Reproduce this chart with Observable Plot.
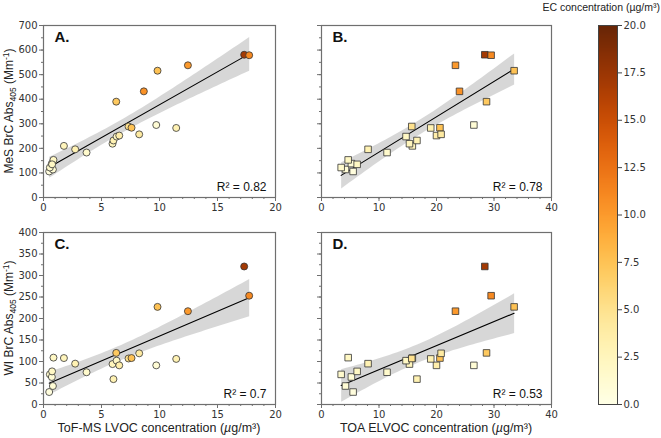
<!DOCTYPE html>
<html>
<head>
<meta charset="utf-8">
<script src="https://cdn.jsdelivr.net/npm/d3@7"></script>
<script src="https://cdn.jsdelivr.net/npm/@observablehq/plot@0.6"></script>
<style>
  html, body { margin: 0; padding: 0; background: #fff; }
  #wrap { position: relative; width: 661px; height: 438px; overflow: hidden; font-family: "Liberation Sans", Arial, sans-serif; }
  .pane { position: absolute; }
  #labels { position: absolute; left: 0; top: 0; pointer-events: none; }
</style>
</head>
<body>
<div id="wrap">
  <div class="pane" id="pA" style="left:0px;top:0px"></div>
  <div class="pane" id="pB" style="left:300px;top:0px"></div>
  <div class="pane" id="pC" style="left:0px;top:215px"></div>
  <div class="pane" id="pD" style="left:300px;top:215px"></div>
  <div class="pane" id="pBar" style="left:560px;top:0px"></div>
</div>
<script>
// ---- data (one entry per sample) ----
const lvoc  = [0.49, 0.81, 0.55, 0.72, 0.86, 0.74, 1.76, 2.73, 3.71, 5.95, 6.03, 6.30, 6.53, 6.27, 7.33, 7.59, 11.44, 8.25, 8.65, 9.72, 9.83, 12.45, 17.30, 17.73];
const elvoc = [5.5, 4.17, 3.42, 5.2, 4.64, 6.2, 15.8, 8.1, 11.4, 15.3, 16.6, 14.7, 20.0, 28.7, 15.7, 20.6, 19.0, 20.8, 24.0, 26.5, 33.5, 23.3, 28.4, 29.5];
const mes   = [106, 114, 122, 138, 153, 135, 210, 196, 183, 219, 232, 248, 252, 390, 289, 284, 283, 257, 432, 295, 516, 538, 581, 579];
const wi    = [29, 43, 70, 64, 109, 77, 108, 95, 75, 94, 59, 102, 91, 120, 107, 108, 106, 119, null, 91, 227, 217, 321, 253];
const ec    = [0.5, 1, 1.5, 1, 2, 2, 2.5, 3, 1.5, 2.5, 3, 2, 3.5, 7, 5, 7.5, 3, 4, 10.5, 1, 7.5, 10, 17, 11];

const panelLetters = ["A.", "B.", "C.", "D."];
const r2Labels = ["R\u00b2 = 0.82", "R\u00b2 = 0.78", "R\u00b2 = 0.7", "R\u00b2 = 0.53"];

const lvocTicks = [0, 5, 10, 15, 20];
const lvocMinor = d3.range(0, 21, 1);
const elvocTicks = [0, 10, 20, 30, 40];
const elvocMinor = d3.range(0, 41, 2);
const mesTicks = [0, 100, 200, 300, 400, 500, 600, 700];
const mesMinor = d3.range(0, 701, 50);
const wiTicks = [0, 50, 100, 150, 200, 250, 300, 350, 400];
const wiMinor = d3.range(0, 401, 25);
const ecTicks = [0, 2.5, 5, 7.5, 10, 12.5, 15, 17.5, 20];
const ecDomain = [0, 20];

const samples = lvoc.map((d, i) => ({lvoc: d, elvoc: elvoc[i], mes: mes[i], wi: wi[i], ec: ec[i]}));
const samplesWI = samples.filter(d => d.wi != null);

const colorScale = {type: "linear", scheme: "YlOrBr", domain: ecDomain};
const axisStroke = "#6f6f6f";
const textColor = "#333";

function panel({data, xKey, yKey, xDomain, yDomain, xTicks, xMinor, yTicks, yMinor, showY, symbol, r, letter, r2, width, height, mt, mb, ml, mr}) {
  return Plot.plot({
    width, height, marginTop: mt, marginBottom: mb, marginLeft: ml, marginRight: mr,
    x: {domain: xDomain},
    y: {domain: yDomain},
    color: colorScale,
    style: {fontFamily: "DejaVu Sans", fontSize: "10px", color: textColor, background: "transparent", overflow: "visible"},
    marks: [
      Plot.linearRegressionY(data, {x: xKey, y: yKey, stroke: "#000", strokeWidth: 1.1, fill: "#c9c9c9", fillOpacity: 0.75}),
      Plot.dot(data, {x: xKey, y: yKey, fill: "ec", stroke: "#333", strokeWidth: 0.8, r, symbol}),
      Plot.frame({stroke: axisStroke, strokeWidth: 1.2}),
      Plot.axisX({ticks: xTicks, tickSize: 4, tickPadding: 2, label: null, stroke: axisStroke, fill: textColor}),
      Plot.axisX({ticks: xMinor, tickSize: 2, text: null, label: null, stroke: axisStroke}),
      Plot.axisY({ticks: yTicks, tickSize: 4, tickPadding: 2, label: null, stroke: axisStroke, fill: textColor, text: showY ? undefined : null}),
      Plot.axisY({ticks: yMinor, tickSize: 2, text: null, label: null, stroke: axisStroke}),
      Plot.text([letter], {frameAnchor: "top-left", dx: 11, dy: 6, fontWeight: "bold", fontSize: 15, fontFamily: "Liberation Sans", fill: "#111"}),
      Plot.text([r2], {frameAnchor: "bottom-right", dx: -9, dy: -7, fontSize: 12, fontFamily: "Liberation Sans", fill: "#111"})
    ]
  });
}

document.getElementById("pA").append(panel({data: samples, xKey: "lvoc", yKey: "mes", xDomain: [0, 20], yDomain: [0, 700],
  xTicks: lvocTicks, xMinor: lvocMinor, yTicks: mesTicks, yMinor: mesMinor, showY: true, symbol: "circle", r: 3.5,
  letter: panelLetters[0], r2: r2Labels[0], width: 290, height: 215, mt: 25, mb: 18, ml: 43, mr: 15}));
document.getElementById("pB").append(panel({data: samples, xKey: "elvoc", yKey: "mes", xDomain: [0, 40], yDomain: [0, 700],
  xTicks: elvocTicks, xMinor: elvocMinor, yTicks: mesTicks, yMinor: mesMinor, showY: false, symbol: "square", r: 3.7,
  letter: panelLetters[1], r2: r2Labels[1], width: 265, height: 215, mt: 25, mb: 18, ml: 21, mr: 14}));
document.getElementById("pC").append(panel({data: samplesWI, xKey: "lvoc", yKey: "wi", xDomain: [0, 20], yDomain: [0, 400],
  xTicks: lvocTicks, xMinor: lvocMinor, yTicks: wiTicks, yMinor: wiMinor, showY: true, symbol: "circle", r: 3.5,
  letter: panelLetters[2], r2: r2Labels[2], width: 290, height: 223, mt: 17, mb: 34, ml: 43, mr: 15}));
document.getElementById("pD").append(panel({data: samplesWI, xKey: "elvoc", yKey: "wi", xDomain: [0, 40], yDomain: [0, 400],
  xTicks: elvocTicks, xMinor: elvocMinor, yTicks: wiTicks, yMinor: wiMinor, showY: false, symbol: "square", r: 3.7,
  letter: panelLetters[3], r2: r2Labels[3], width: 265, height: 223, mt: 17, mb: 34, ml: 21, mr: 14}));

// ---- colour bar ----
const step = 0.05;
const ramp = d3.range(ecDomain[0], ecDomain[1], step).map(v => ({v0: v, v1: v + step * 1.6}));
document.getElementById("pBar").append(Plot.plot({
  width: 101, height: 438, marginTop: 25, marginBottom: 34, marginLeft: 38, marginRight: 44,
  y: {domain: ecDomain},
  color: colorScale,
  style: {fontFamily: "DejaVu Sans", fontSize: "10px", color: textColor, background: "transparent", overflow: "visible"},
  marks: [
    Plot.rect(ramp, {y1: "v0", y2: d => Math.min(d.v1, ecDomain[1]), fill: "v0", shapeRendering: "crispEdges"}),
    Plot.frame({stroke: "#444", strokeWidth: 1}),
    Plot.axisY({anchor: "right", ticks: ecTicks, tickFormat: d3.format(".1f"), tickSize: 4, tickPadding: 2, label: null, stroke: "#444", fill: textColor})
  ]
}));

// ---- axis titles (real text with sub/superscripts) ----
const svg = d3.select("#wrap").append("svg").attr("id", "labels").attr("width", 661).attr("height", 438)
  .attr("font-family", "Liberation Sans, Arial, sans-serif").attr("fill", "#222");

function yTitle(prefix, cx, cy) {
  const t = svg.append("text").attr("transform", `translate(${cx},${cy}) rotate(-90)`).attr("text-anchor", "middle").attr("font-size", 12);
  t.append("tspan").text(prefix + " BrC Abs");
  t.append("tspan").attr("font-size", 8.5).attr("dy", 3).text("405");
  t.append("tspan").attr("dy", -3).text(" (Mm");
  t.append("tspan").attr("font-size", 8.5).attr("dy", -4.5).text("-1");
  t.append("tspan").attr("dy", 4.5).text(")");
}
function xTitle(prefix, cx, cy) {
  const t = svg.append("text").attr("x", cx).attr("y", cy).attr("text-anchor", "middle").attr("font-size", 12.5);
  t.append("tspan").text(prefix + " concentration (");
  t.append("tspan").attr("font-style", "italic").text("\u00b5");
  t.append("tspan").text("g/m\u00b3)");
}
yTitle("MeS", 13, 111);
yTitle("WI", 13, 318);
xTitle("ToF-MS LVOC", 159, 432);
xTitle("TOA ELVOC", 436, 432);
svg.append("text").attr("x", 660).attr("y", 11).attr("text-anchor", "end").attr("font-size", 10.5)
  .text("EC concentration (\u00b5g/m\u00b3)");
</script>
</body>
</html>
